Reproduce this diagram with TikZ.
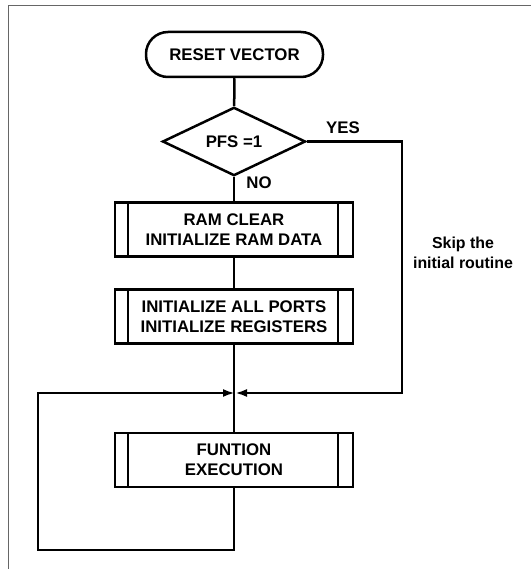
\documentclass[tikz,border=0pt]{standalone}
\usepackage{fontspec}
\setmainfont{Liberation Sans}
\usetikzlibrary{shapes.geometric,arrows.meta}

\begin{document}
\begin{tikzpicture}[x=1pt,y=-1pt,line width=2.5pt,>={Latex[length=12pt,width=8pt]},
  font=\fontsize{16.8}{20}\selectfont\bfseries,
  terminal/.style={draw,rounded corners=22pt,minimum width=177pt,minimum height=45pt},
  decision/.style={draw,diamond,minimum width=143pt,minimum height=49pt,inner sep=0pt},
  process/.style={draw,align=center,minimum width=238pt,minimum height=54pt,inner sep=2pt,
    path picture={
      \draw ([xshift=13pt]path picture bounding box.north west) -- ([xshift=13pt]path picture bounding box.south west);
      \draw ([xshift=-15pt]path picture bounding box.north east) -- ([xshift=-15pt]path picture bounding box.south east);
    }}]
  \useasboundingbox (0,0) rectangle (531,569);
  \draw[black!60,line width=1.4pt] (8.5,569) -- (8.5,5.5) -- (531,5.5);

  \node[terminal] (reset) at (234.5,54.5) {RESET VECTOR};
  \node[decision] (pfs) at (234,141.5) {PFS =1};
  \node[process] (ramclear) at (234,229.5) {RAM CLEAR\\INITIALIZE RAM DATA};
  \node[process] (ports) at (234,316.5) {INITIALIZE ALL PORTS\\INITIALIZE REGISTERS};
  \node[process] (func) at (234,460) {FUNTION\\EXECUTION};

  \node (yes) at (343,128) {YES};
  \node (no) at (259,183) {NO};
  \node[align=center,font=\fontsize{15.9}{20}\selectfont\bfseries] (skip) at (463,253) {Skip the\\initial routine};

  \coordinate (join) at (235,393);
  \coordinate (skipbend) at (402,393);
  \coordinate (loopbend) at (38,550);

  \draw (reset) -- (pfs);
  \draw (pfs) -- (ramclear);
  \draw (ramclear) -- (ports);
  \draw (ports) -- (func);
  \draw[->] (pfs.east) -| (skipbend) -- (join);
  \draw[->] (func.south) |- (loopbend) |- (join);
\end{tikzpicture}
\end{document}
